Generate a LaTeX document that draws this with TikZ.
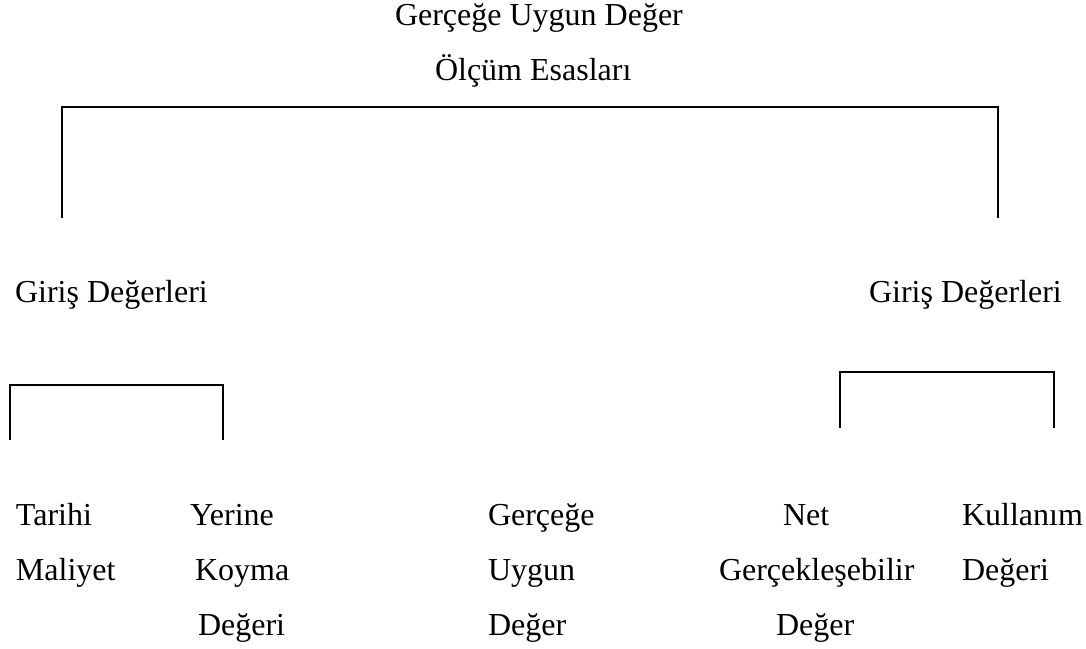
\documentclass[tikz,border=0pt]{standalone}
\usepackage{fontspec}
\setmainfont{Liberation Serif}
\begin{document}
\begin{tikzpicture}[x=1pt,y=-1pt,
  lbl/.style={anchor=base west,inner sep=0pt,outer sep=0pt,font=\fontsize{32}{36}\selectfont},
  bracket/.style={draw=black,line width=1.8pt,line cap=butt,line join=miter}]
\useasboundingbox (0,0) rectangle (1086,648);
% titles
\node[lbl] (t1) at (395,25) {Gerçeğe Uygun Değer};
\node[lbl] (t2) at (435,80) {Ölçüm Esasları};
% big bracket
\coordinate (bA) at (62,218);
\coordinate (bB) at (998,218);
\draw[bracket] (bA) -- (62,107) -- (998,107) -- (bB);
% second level
\node[lbl] (gl) at (15,302) {Giriş Değerleri};
\node[lbl] (gr) at (869,302) {Giriş Değerleri};
% small brackets
\coordinate (sA) at (10,440);
\coordinate (sB) at (223,440);
\draw[bracket] (sA) -- (10,385) -- (223,385) -- (sB);
\coordinate (rA) at (840,428);
\coordinate (rB) at (1054,428);
\draw[bracket] (rA) -- (840,372) -- (1054,372) -- (rB);
% leaves
\node[lbl] (a1) at (16,525) {Tarihi};
\node[lbl] (a2) at (16,580) {Maliyet};
\node[lbl] (b1) at (190,525) {Yerine};
\node[lbl] (b2) at (195,580) {Koyma};
\node[lbl] (b3) at (198,635) {Değeri};
\node[lbl] (c1) at (488,525) {Gerçeğe};
\node[lbl] (c2) at (488,580) {Uygun};
\node[lbl] (c3) at (488,635) {Değer};
\node[lbl] (d1) at (783,525) {Net};
\node[lbl] (d2) at (719,580) {Gerçekleşebilir};
\node[lbl] (d3) at (776,635) {Değer};
\node[lbl] (e1) at (962,525) {Kullanım};
\node[lbl] (e2) at (962,580) {Değeri};
\end{tikzpicture}
\end{document}
